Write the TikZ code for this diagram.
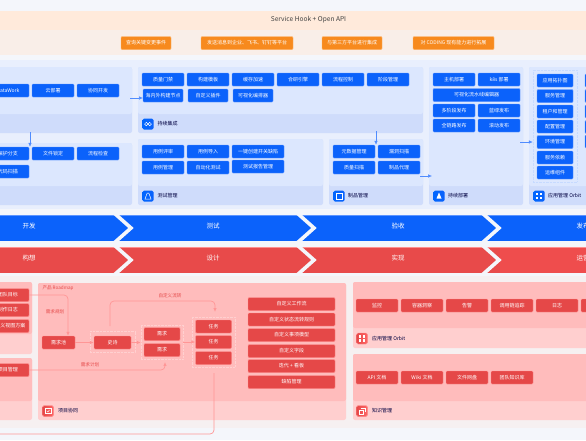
\documentclass[tikz,border=0pt]{standalone}
\usepackage{fontspec}
\setmainfont{Noto Sans CJK SC}
\usepackage{xcolor}
\usetikzlibrary{arrows.meta,positioning,calc}
\definecolor{pagebg}{HTML}{F4F6FB}
\definecolor{hookbg}{HTML}{FFEADB}
\definecolor{notifybg}{HTML}{F9EEE8}
\definecolor{orangebtn}{HTML}{F78A1E}
\definecolor{blueouter}{HTML}{E9EFFD}
\definecolor{bluebody}{HTML}{DCE7FE}
\definecolor{bluefoot}{HTML}{CFDCFB}
\definecolor{bluebtn}{HTML}{0B62FB}
\definecolor{blueedge}{HTML}{5C94FF}
\definecolor{redouter}{HTML}{F6F0F1}
\definecolor{redbody}{HTML}{FFBCBC}
\definecolor{redfoot}{HTML}{FFCFCF}
\definecolor{redbtn}{HTML}{E54848}
\definecolor{rededge}{HTML}{FF8F8F}
\definecolor{redband}{HTML}{E84A4A}
\definecolor{redbandB}{HTML}{EF4D4D}
\definecolor{redline}{HTML}{FF9696}
\tikzset{
  bluebox/.style  ={draw=blueedge,line width=0.4pt,fill=bluebtn,rounded corners=1pt,text=white,
                     font=\fontsize{5}{6}\selectfont,inner sep=0pt,minimum width=42pt,minimum height=13pt},
  redbox/.style   ={draw=rededge,line width=0.4pt,fill=redbtn,rounded corners=1pt,text=white,
                     font=\fontsize{5}{6}\selectfont,inner sep=0pt,minimum width=42pt,minimum height=13pt},
  orangebox/.style={draw=orange!60,line width=0.4pt,fill=orangebtn,rounded corners=1pt,text=white,
                     font=\fontsize{5}{6}\selectfont,inner sep=0pt,minimum height=13pt},
  footlbl/.style  ={anchor=west,inner sep=0pt,text=black!75!blue,font=\fontsize{5}{6}\selectfont},
  redlbl/.style   ={inner sep=0pt,text=redbtn,font=\fontsize{4.6}{6}\selectfont},
  bandlbl/.style  ={inner sep=0pt,text=white,font=\fontsize{6.5}{8}\selectfont},
  iconblue/.style ={rounded corners=1.5pt,left color=blue!60!cyan,right color=bluebtn,inner sep=0pt,minimum size=11pt},
  iconred/.style  ={rounded corners=1.5pt,left color=redbtn,right color=red!60,draw=rededge,line width=0.4pt,inner sep=0pt,minimum size=11pt},
  glyph/.style    ={draw=white,line width=0.5pt},
  dotbox/.style   ={densely dotted,line width=0.4pt},
  blueflow/.style ={-{Latex[length=1.4mm,width=1.2mm]},draw=blueedge!85!bluebtn,line width=0.5pt},
  redflow/.style  ={-{Latex[length=1.4mm,width=1.2mm]},draw=redline,line width=0.7pt,rounded corners=4pt},
}
\begin{document}
\begin{tikzpicture}[x=1pt,y=-1pt]
\clip (0,0) rectangle (586,440);
\fill[pagebg] (0,0) rectangle (586,440);
% ---- open api and notification rows ----
\node[fill=hookbg,minimum width=586pt,minimum height=19pt,inner sep=0pt] (hook) at (293,20.5) {};
\node[inner sep=0pt,font=\fontsize{6.6}{8}\selectfont,text=black!75] (hookText) at (308.5,20) {Service Hook + Open API};
\node[fill=notifybg,minimum width=586pt,minimum height=25pt,inner sep=0pt] (notify) at (293,42.5) {};
\node[orangebox,minimum width=50pt] (orA) at (146,43) {查询关键变更事件};
\node[orangebox,minimum width=92pt] (orB) at (247,43) {发送消息到企业、飞书、钉钉等平台};
\node[orangebox,minimum width=60pt] (orC) at (352,43) {与第三方平台进行集成};
\node[orangebox,minimum width=81pt] (orD) at (453.5,43) {对 CODING 现有能力进行拓展};
% ---- blue zone panels ----
\fill[blueouter] (0,60) rectangle (586,209);
\foreach \xa/\ya/\xb/\yb/\yf in {-5/67/132/133/114,-5/143/132/205/186,138/67/423/133/114,138/139/323/205/186,329/139/423/205/186,429/67/523/205/186,529/67/600/205/186} {
  \fill[bluefoot,rounded corners=2pt] (\xa,\ya) rectangle (\xb,\yb);
  \fill[bluebody,rounded corners=2pt] (\xa,\ya) rectangle (\xb,\yf);
}
% ---- code panels ----
\foreach \n/\x/\t in {coA/8/DataWork,coB/53/云部署,coC/98/协同开发}
  \node[bluebox] (\n) at (\x,90.5) {\t};
\foreach \n/\x/\t in {vcA/8/保护分支,vcB/53/文件锁定,vcC/98/流程检查}
  \node[bluebox] (\n) at (\x,153.5) {\t};
\node[bluebox] (vcD) at (8,171.5) {代码扫描};
% ---- continuous integration ----
\foreach \n/\x/\t in {ciA/163/质量门禁,ciB/208/构建模板,ciC/253/缓存加速,ciD/298/合研引擎,ciE/343/流程控制,ciF/388/阶段管理}
  \node[bluebox] (\n) at (\x,79.5) {\t};
\node[bluebox,minimum width=40pt] (ciG) at (163,95.5) {海内外构建节点};
\node[bluebox,minimum width=40pt] (ciH) at (208,95.5) {自定义插件};
\node[bluebox,minimum width=40pt] (ciI) at (253,95.5) {可视化编排器};
% ---- test management ----
\foreach \n/\x/\t in {teA/163/用例评审,teB/208/用例导入/导出}
  \node[bluebox] (\n) at (\x,151.5) {\t};
\node[bluebox,minimum width=52pt] (teC) at (258,151.5) {一键创建开关缺陷};
\node[bluebox] (teD) at (163,167.5) {用例管理};
\node[bluebox] (teE) at (208,167.5) {自动化测试};
\node[bluebox,minimum width=52pt] (teF) at (258,166.5) {测试报告管理};
% ---- artifact management ----
\node[bluebox] (arA) at (354,151.5) {元数据管理};
\node[bluebox] (arB) at (399,151.5) {漏洞扫描};
\node[bluebox] (arC) at (354,167.5) {质量扫描};
\node[bluebox] (arD) at (399,167.5) {制品代理};
% ---- continuous deployment ----
\node[bluebox] (cdA) at (454,79.5) {主机部署};
\node[bluebox] (cdB) at (499,79.5) {k8s 部署};
\node[bluebox,minimum width=87pt] (cdC) at (476.5,95) {可视化流水线编辑器};
\node[bluebox] (cdD) at (454,110.5) {多阶段发布};
\node[bluebox] (cdE) at (499,110.5) {蓝绿发布};
\node[bluebox] (cdF) at (454,125.5) {全链路发布};
\node[bluebox] (cdG) at (499,125.5) {滚动发布};
% ---- application orbit ----
\node[draw=blueedge!35,dotbox,minimum width=44pt,minimum height=112pt,inner sep=0pt] (appDot) at (555,126) {};
\foreach \n/\y/\t in {apA/80.5/应用拓扑图,apB/96/服务管理,apC/111.5/租户和管理,apD/126.5/配置管理,apE/142/环境管理,apF/157.5/服务依赖,apG/172.5/运维组件}
  \node[bluebox,minimum width=36pt] (\n) at (555,\y) {\t};
\foreach \n/\y in {apH/80.5,apI/96,apJ/111.5,apK/127,apL/141.5}
  \node[bluebox,minimum width=36pt] (\n) at (603,\y) {};
% ---- blue flows ----
\coordinate (coOut) at (130,98);
\coordinate (ciBack) at (30,132);
\coordinate (ciDown) at (376,131);
\coordinate (arOut) at (420,176);
\coordinate (cdOut) at (520,142);
\draw[blueflow] (coOut) -- (143,98);
\draw[blueflow] (ciBack) -- (vcA.north-|ciBack);
\draw[blueflow] (ciDown) -- (arB.north-|ciDown);
\draw[blueflow] (arOut) -- (432,176);
\draw[blueflow] (cdOut) -- (appDot.west|-cdOut);
% ---- blue footers ----
\node[iconblue] (icCi) at (148,124) {};
\draw[glyph] ([xshift=-1.7pt]icCi.center) circle (1.7pt) ([xshift=1.7pt]icCi.center) circle (1.7pt);
\node[footlbl] (lbCi) at (157.5,124) {持续集成};
\node[iconblue] (icTe) at (148,196) {};
\draw[glyph] ([shift={(-3,3)}]icTe.center) -- ([shift={(3,3)}]icTe.center) -- ([shift={(0.8,-3)}]icTe.center) -- ([shift={(-0.8,-3)}]icTe.center) -- cycle;
\node[footlbl] (lbTe) at (157.5,196) {测试管理};
\node[iconblue] (icAr) at (339,196) {};
\draw[glyph] ([shift={(-3,-3)}]icAr.center) rectangle ([shift={(3,3)}]icAr.center);
\node[footlbl] (lbAr) at (348,196) {制品管理};
\node[iconblue] (icCd) at (439,196) {};
\fill[white] ([shift={(0,-3.5)}]icCd.center) -- ([shift={(2.5,2.5)}]icCd.center) -- ([shift={(-2.5,2.5)}]icCd.center) -- cycle;
\node[footlbl] (lbCd) at (448,196) {持续部署};
\node[iconblue] (icAp) at (539,196) {};
\foreach \dx/\dy in {-2/-2,2/-2,-2/2,2/2}
  \fill[white] ([shift={(\dx-1.2,\dy-1.2)}]icAp.center) rectangle ([shift={(\dx+1.2,\dy+1.2)}]icAp.center);
\node[footlbl] (lbAp) at (548,196) {应用管理 Orbit};
% ---- stage bands ----
\fill[bluebtn] (0,215) rectangle (586,241);
\fill[redband] (0,247) rectangle (500,273);
\fill[redbandB] (500,247) rectangle (586,273);
\draw[blueedge,line width=0.5pt] (0,215.3) -- (586,215.3);
\draw[rededge,line width=0.5pt] (0,247.3) -- (586,247.3);
\foreach \x in {113,296,481} {
  \draw[pagebg,line width=3.6pt] (\x,212) -- ++(18,16) -- ++(-18,16);
  \draw[pagebg,line width=3.6pt] (\x,244) -- ++(18,16) -- ++(-18,16);
}
\foreach \n/\x/\t in {bdA/29/开发,bdB/213/测试,bdC/398/验收,bdD/583/发布}
  \node[bandlbl] (\n) at (\x,226.5) {\t};
\foreach \n/\x/\t in {brA/29/构想,brB/213/设计,brC/398/实现,brD/583/运营}
  \node[bandlbl] (\n) at (\x,258.5) {\t};
% ---- red zone panels ----
\fill[redouter] (0,276) rectangle (586,428);
\foreach \xa/\ya/\xb/\yb/\yf in {-5/282/32/354/334,-5/358/32/420/401,38/283/346/420/401,353/282/600/348/328,353/354/600/420/401} {
  \fill[redfoot,rounded corners=2pt] (\xa,\ya) rectangle (\xb,\yb);
  \fill[redbody,rounded corners=2pt] (\xa,\ya) rectangle (\xb,\yf);
}
% ---- product planning ----
\node[redbox] (goA) at (8,295) {团队目标};
\node[redbox] (goB) at (8,310) {制作日志};
\node[redbox] (goC) at (8,326) {自定义视图方案};
\node[redbox] (goD) at (8,370) {项目管理};
\node[redlbl] (roadmap) at (58,288) {产品 Roadmap};
% ---- project flow ----
\node[redbox,minimum width=33pt] (pool) at (58.5,342.5) {需求池};
\node[draw=redline!45,dotbox,minimum width=45pt,minimum height=21pt,inner sep=0pt] (epicDot) at (112.5,342) {};
\node[redbox,minimum width=37pt] (epic) at (112.5,342.5) {史诗};
\node[draw=redline!45,dotbox,minimum width=42pt,minimum height=34pt,inner sep=0pt] (reqDot) at (162,342) {};
\node[redbox,minimum width=36pt] (reqA) at (162,334) {需求};
\node[redbox,minimum width=36pt] (reqB) at (162,350) {需求};
\node[draw=redline!45,dotbox,minimum width=43pt,minimum height=50pt,inner sep=0pt] (taskDot) at (213.5,342) {};
\node[redbox,minimum width=36pt] (taskA) at (213.5,326.5) {任务};
\node[redbox,minimum width=36pt] (taskB) at (213.5,342) {任务};
\node[redbox,minimum width=36pt] (taskC) at (213.5,358) {任务};
\foreach \n/\y/\t in {cfA/304/自定义工作流,cfB/319.5/自定义状态流转规则,cfC/335/自定义事项模型,cfD/351/自定义字段,cfE/366/迭代 + 看板,cfF/382/缺陷管理}
  \node[redbox,minimum width=87pt] (\n) at (291.5,\y) {\t};
% ---- red flows ----
\coordinate (epicUp) at (110,326);
\coordinate (taskIn) at (215,312);
\coordinate (taskOut) at (214,373);
\coordinate (backEnd) at (-3,434);
\coordinate (reqIn) at (165,362);
\draw[redflow] (goA.east) -| ([xshift=9.5pt]pool.north);
\draw[redflow] (epicUp) -- ++(0,-25) -| (taskIn);
\draw[redflow] (goD.east) -| (reqIn);
\draw[redflow,-] (taskOut) |- (backEnd);
\draw[redflow] (pool) -- (epic);
\draw[redflow] (epic) -- (reqDot.west|-epic);
\draw[redflow] (reqDot.east|-taskB) -- (taskB);
\node[redlbl] (lbDemand) at (55,312) {需求规划};
\node[redlbl] (lbFlow) at (170,296) {自定义流转};
\node[redlbl] (lbPlan) at (90,365) {需求计划};
% ---- operations and knowledge ----
\foreach \n/\x/\t in {obA/377/监控,obB/422/容器洞察,obC/467/告警,obD/512/调用链追踪,obE/557/日志,obF/602/}
  \node[redbox] (\n) at (\x,305.5) {\t};
\foreach \n/\x/\t in {knA/377/API 文档,knB/422/Wiki 文档,knC/467/文件网盘,knD/512/团队知识库}
  \node[redbox] (\n) at (\x,377.5) {\t};
% ---- red footers ----
\node[iconred] (icPr) at (48,411) {};
\draw[glyph] ([shift={(-3,-2.5)}]icPr.center) rectangle ([shift={(3,2.5)}]icPr.center);
\draw[glyph] ([shift={(-1.3,-0.2)}]icPr.center) -- ([shift={(-0.2,0.9)}]icPr.center) -- ([shift={(1.5,-1)}]icPr.center);
\node[footlbl] (lbPr) at (58,411) {项目协同};
\node[iconred] (icOb) at (362,338.5) {};
\foreach \dx/\dy in {-2/-2,2/-2,-2/2,2/2}
  \fill[white] ([shift={(\dx-1.2,\dy-1.2)}]icOb.center) rectangle ([shift={(\dx+1.2,\dy+1.2)}]icOb.center);
\node[footlbl] (lbOb) at (372,338.5) {应用管理 Orbit};
\node[iconred] (icKn) at (362,411) {};
\draw[glyph] ([shift={(-2.8,-1.2)}]icKn.center) rectangle ([shift={(1.2,2.8)}]icKn.center);
\draw[glyph] ([shift={(-1.2,-2.8)}]icKn.center) -- ([shift={(2.8,-2.8)}]icKn.center) -- ([shift={(2.8,1.2)}]icKn.center);
\node[footlbl] (lbKn) at (372,411) {知识管理};
\end{tikzpicture}
\end{document}
